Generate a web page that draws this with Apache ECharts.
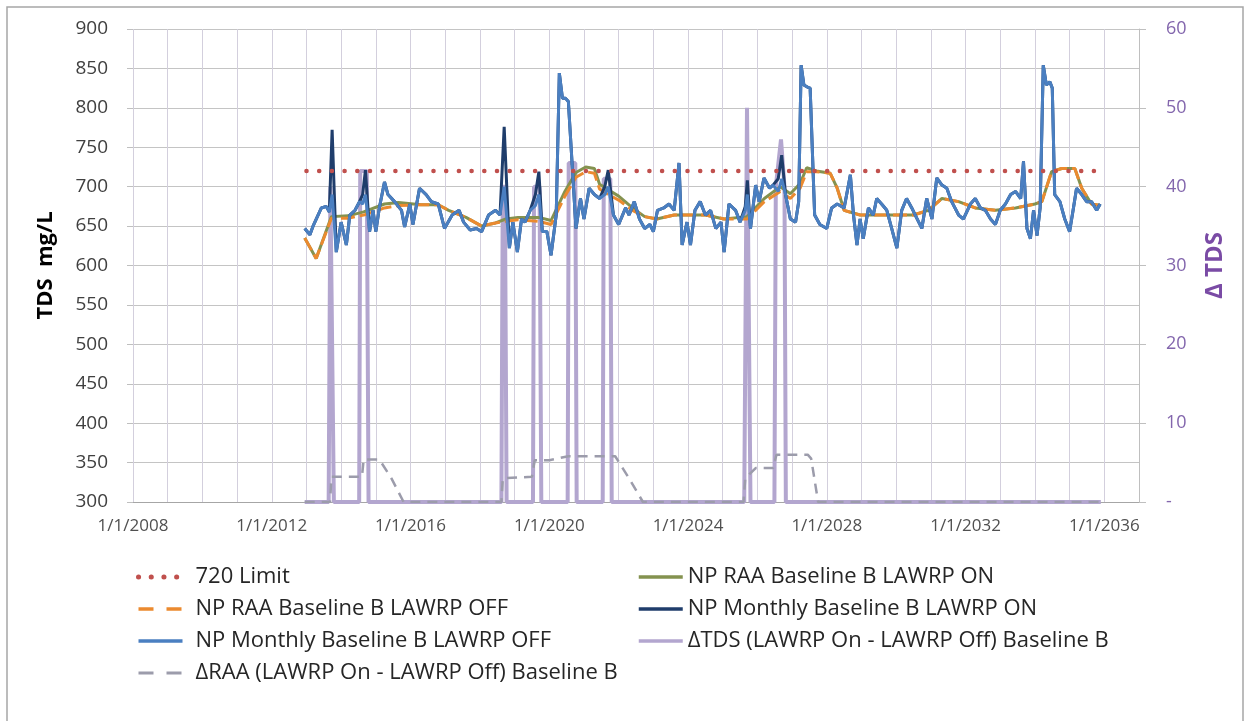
<!DOCTYPE html>
<html>
<head>
<meta charset="utf-8">
<script src="https://cdn.jsdelivr.net/npm/echarts@6/dist/echarts.min.js"></script>
<style>
  html, body { margin: 0; padding: 0; background: #ffffff; }
  #chart { width: 1251px; height: 721px; }
</style>
</head>
<body>
<div id="chart"></div>
<script>
// ---- data (x = decimal year, y = value) ----
const xTickLabelYears = [2008, 2012, 2016, 2020, 2024, 2028, 2032, 2036];

const limitValue = 720;
const limitSpan = [2013.0, 2036.0];

// NP monthly TDS, LAWRP OFF (mg/L)
const monthlyOff = [
  [2012.95,647],[2013.1,639],[2013.2,651],[2013.43,673],[2013.57,675],[2013.66,668],[2013.74,690],[2013.86,617],
  [2014.0,655],[2014.15,626],[2014.25,664],[2014.4,670],[2014.53,681],[2014.62,678],[2014.7,690],[2014.82,643],
  [2014.92,670],[2015.0,643],[2015.1,673],[2015.25,706],[2015.35,690],[2015.54,681],[2015.74,670],[2015.83,649],
  [2015.98,678],[2016.07,652],[2016.26,698],[2016.45,690],[2016.6,681],[2016.8,678],[2016.98,647],[2017.2,664],
  [2017.4,670],[2017.53,655],[2017.72,645],[2017.9,647],[2018.05,643],[2018.25,664],[2018.45,670],[2018.58,664],
  [2018.7,700],[2018.85,622],[2018.95,655],[2019.08,617],[2019.2,659],[2019.3,655],[2019.45,670],[2019.6,676],
  [2019.7,690],[2019.8,643],[2019.93,643],[2020.05,613],[2020.2,664],[2020.29,844],[2020.38,812],[2020.47,812],
  [2020.55,808],[2020.77,647],[2020.9,685],[2021.0,659],[2021.15,698],[2021.3,690],[2021.45,685],[2021.6,690],
  [2021.7,700],[2021.85,664],[2022.0,652],[2022.2,673],[2022.3,664],[2022.45,681],[2022.6,659],[2022.75,647],
  [2022.9,652],[2023.0,643],[2023.12,670],[2023.3,673],[2023.45,678],[2023.6,670],[2023.74,730],[2023.83,626],
  [2023.97,655],[2024.07,626],[2024.2,670],[2024.35,681],[2024.5,664],[2024.65,670],[2024.8,647],[2024.95,655],
  [2025.04,617],[2025.18,678],[2025.37,670],[2025.5,655],[2025.65,670],[2025.71,690],[2025.8,647],[2025.95,702],
  [2026.05,681],[2026.19,711],[2026.35,698],[2026.45,702],[2026.6,694],[2026.7,710],[2026.81,690],[2026.95,659],
  [2027.1,655],[2027.19,681],[2027.26,854],[2027.34,829],[2027.45,826],[2027.52,825],[2027.65,664],[2027.8,652],
  [2028.0,647],[2028.14,673],[2028.3,678],[2028.5,673],[2028.68,715],[2028.77,664],[2028.87,626],[2028.96,659],
  [2029.05,634],[2029.2,673],[2029.34,664],[2029.44,685],[2029.58,678],[2029.73,670],[2029.87,647],[2030.02,622],
  [2030.16,670],[2030.3,685],[2030.45,673],[2030.55,664],[2030.74,647],[2030.88,685],[2031.03,659],[2031.17,711],
  [2031.32,702],[2031.46,698],[2031.6,681],[2031.8,664],[2031.94,659],[2032.14,678],[2032.28,685],[2032.43,673],
  [2032.57,670],[2032.72,659],[2032.86,652],[2033.0,670],[2033.15,678],[2033.3,690],[2033.44,694],[2033.59,685],
  [2033.67,732],[2033.77,647],[2033.87,634],[2033.96,670],[2034.06,638],[2034.15,673],[2034.24,854],[2034.33,829],
  [2034.43,833],[2034.5,825],[2034.57,690],[2034.72,681],[2034.86,659],[2035.0,643],[2035.1,670],[2035.2,698],
  [2035.35,690],[2035.49,681],[2035.63,681],[2035.78,670],[2035.88,678]
];

// NP monthly TDS, LAWRP ON (mg/L)
const monthlyOn = [
  [2012.95,647],[2013.1,639],[2013.2,651],[2013.43,673],[2013.57,675],[2013.66,668],[2013.74,772],[2013.86,617],
  [2014.0,655],[2014.15,626],[2014.25,664],[2014.4,670],[2014.53,681],[2014.62,690],[2014.7,721],[2014.82,643],
  [2014.92,670],[2015.0,643],[2015.1,673],[2015.25,706],[2015.35,690],[2015.54,681],[2015.74,670],[2015.83,649],
  [2015.98,678],[2016.07,652],[2016.26,698],[2016.45,690],[2016.6,681],[2016.8,678],[2016.98,647],[2017.2,664],
  [2017.4,670],[2017.53,655],[2017.72,645],[2017.9,647],[2018.05,643],[2018.25,664],[2018.45,670],[2018.58,664],
  [2018.7,776],[2018.85,622],[2018.95,655],[2019.08,617],[2019.2,659],[2019.3,655],[2019.45,670],[2019.6,690],
  [2019.7,719],[2019.8,643],[2019.93,643],[2020.05,613],[2020.2,664],[2020.29,844],[2020.38,812],[2020.47,812],
  [2020.55,808],[2020.77,647],[2020.9,685],[2021.0,659],[2021.15,698],[2021.3,690],[2021.45,685],[2021.6,700],
  [2021.7,721],[2021.85,664],[2022.0,652],[2022.2,673],[2022.3,664],[2022.45,681],[2022.6,659],[2022.75,647],
  [2022.9,652],[2023.0,643],[2023.12,670],[2023.3,673],[2023.45,678],[2023.6,670],[2023.74,730],[2023.83,626],
  [2023.97,655],[2024.07,626],[2024.2,670],[2024.35,681],[2024.5,664],[2024.65,670],[2024.8,647],[2024.95,655],
  [2025.04,617],[2025.18,678],[2025.37,670],[2025.5,655],[2025.65,675],[2025.71,708],[2025.8,647],[2025.95,702],
  [2026.05,681],[2026.19,711],[2026.35,698],[2026.45,702],[2026.6,710],[2026.7,740],[2026.81,690],[2026.95,659],
  [2027.1,655],[2027.19,681],[2027.26,854],[2027.34,829],[2027.45,826],[2027.52,825],[2027.65,664],[2027.8,652],
  [2028.0,647],[2028.14,673],[2028.3,678],[2028.5,673],[2028.68,715],[2028.77,664],[2028.87,626],[2028.96,659],
  [2029.05,634],[2029.2,673],[2029.34,664],[2029.44,685],[2029.58,678],[2029.73,670],[2029.87,647],[2030.02,622],
  [2030.16,670],[2030.3,685],[2030.45,673],[2030.55,664],[2030.74,647],[2030.88,685],[2031.03,659],[2031.17,711],
  [2031.32,702],[2031.46,698],[2031.6,681],[2031.8,664],[2031.94,659],[2032.14,678],[2032.28,685],[2032.43,673],
  [2032.57,670],[2032.72,659],[2032.86,652],[2033.0,670],[2033.15,678],[2033.3,690],[2033.44,694],[2033.59,685],
  [2033.67,732],[2033.77,647],[2033.87,634],[2033.96,670],[2034.06,638],[2034.15,673],[2034.24,854],[2034.33,829],
  [2034.43,833],[2034.5,825],[2034.57,690],[2034.72,681],[2034.86,659],[2035.0,643],[2035.1,670],[2035.2,698],
  [2035.35,690],[2035.49,681],[2035.63,681],[2035.78,670],[2035.88,678]
];

// NP running annual average, LAWRP OFF (mg/L)
const raaOff = [
  [2012.95,635],[2013.28,609],[2013.72,660],[2014.2,660],[2014.65,664],[2015.25,673],[2015.65,676],[2016.3,677],
  [2016.8,677],[2017.1,670],[2017.6,661],[2018.05,650],[2018.45,654],[2018.75,656],[2019.1,658],[2019.7,656],
  [2020.05,652],[2020.45,688],[2020.77,712],[2021.05,719],[2021.3,717],[2021.45,697],[2021.7,690],[2022.0,683],
  [2022.4,670],[2022.75,662],[2023.1,659],[2023.6,664],[2024.0,664],[2024.5,664],[2025.04,659],[2025.7,659],
  [2026.2,681],[2026.66,694],[2026.95,685],[2027.23,698],[2027.42,719],[2027.7,719],[2028.1,717],[2028.3,698],
  [2028.5,670],[2028.96,664],[2029.55,664],[2030.1,664],[2030.5,664],[2030.93,670],[2031.32,685],[2031.8,681],
  [2032.28,673],[2032.86,670],[2033.44,673],[2034.0,678],[2034.2,681],[2034.48,719],[2034.77,723],[2035.15,723],
  [2035.35,698],[2035.63,678],[2035.88,676]
];

// NP running annual average, LAWRP ON (mg/L)
const raaOn = [
  [2012.95,635],[2013.28,609],[2013.72,662],[2014.2,663],[2014.65,668],[2015.25,678],[2015.65,680],[2016.3,677],
  [2016.8,677],[2017.1,670],[2017.6,661],[2018.05,650],[2018.45,654],[2018.75,659],[2019.1,661],[2019.7,661],
  [2020.05,657],[2020.45,694],[2020.77,718],[2021.05,725],[2021.3,723],[2021.45,703],[2021.7,696],[2022.0,688],
  [2022.4,673],[2022.75,662],[2023.1,659],[2023.6,664],[2024.0,664],[2024.5,664],[2025.04,659],[2025.7,662],
  [2026.2,685],[2026.66,700],[2026.95,691],[2027.23,704],[2027.42,724],[2027.7,720],[2028.1,717],[2028.3,698],
  [2028.5,670],[2028.96,664],[2029.55,664],[2030.1,664],[2030.5,664],[2030.93,670],[2031.32,685],[2031.8,681],
  [2032.28,673],[2032.86,670],[2033.44,673],[2034.0,678],[2034.2,681],[2034.48,719],[2034.77,723],[2035.15,723],
  [2035.35,698],[2035.63,678],[2035.88,676]
];

// ΔTDS (LAWRP On - LAWRP Off), right axis
const deltaTds = [
  [2012.95,0],[2013.64,0],[2013.69,40],[2013.74,40],[2013.79,0],
  [2014.52,0],[2014.55,42],[2014.74,42],[2014.79,0],
  [2018.62,0],[2018.66,40],[2018.72,40],[2018.77,0],
  [2019.53,0],[2019.56,40],[2019.72,40],[2019.77,0],
  [2020.53,0],[2020.56,43],[2020.75,43],[2020.79,0],
  [2021.54,0],[2021.57,41],[2021.76,41],[2021.8,0],
  [2025.62,0],[2025.7,50],[2025.8,0],
  [2026.49,0],[2026.53,40],[2026.68,46],[2026.78,40],[2026.82,0],
  [2035.9,0]
];

// ΔRAA (LAWRP On - LAWRP Off), right axis
const deltaRaa = [
  [2012.95,0],[2013.68,0],[2013.72,3.2],[2014.6,3.2],[2014.65,5.4],[2015.1,5.4],[2015.45,3],[2015.8,0],
  [2018.62,0],[2018.66,3],[2019.5,3.2],[2019.58,5.3],[2020.0,5.3],[2020.55,5.8],[2021.9,5.8],[2022.3,3],[2022.7,0],
  [2025.6,0],[2025.65,3],[2025.95,4.3],[2026.45,4.3],[2026.55,6],[2027.45,6],[2027.55,5.5],[2027.75,0],
  [2035.9,0]
];

// ---- chart ----
const FONT = "'Open Sans', 'Liberation Sans', sans-serif";
const chart = echarts.init(document.getElementById('chart'), null, { renderer: 'canvas' });

const legendText = { fontFamily: FONT, fontSize: 22, color: '#262626', lineHeight: 22 };
// hide the marker symbol so legend icons show only the line style
const legendItemStyle = { color: 'rgba(0,0,0,0)', borderColor: 'rgba(0,0,0,0)', borderWidth: 0, opacity: 0 };
const legendLineStyle = { width: 3.5 };

chart.setOption({
  animation: false,
  backgroundColor: '#ffffff',
  graphic: [{
    type: 'rect',
    shape: { x: 7, y: 7, width: 1236, height: 730 },
    style: { fill: 'none', stroke: '#a6a6a6', lineWidth: 1.5 },
    silent: true
  }],
  grid: { left: 133, right: 112, top: 29, bottom: 219 },
  legend: [
    {
      left: 131, top: 561, orient: 'vertical', itemGap: 10,
      itemWidth: 44, itemHeight: 14,
      textStyle: Object.assign({ padding: [0, 0, 0, 8] }, legendText),
      itemStyle: legendItemStyle, lineStyle: legendLineStyle,
      data: [
        { name: '720 Limit', lineStyle: { width: 5 } },
        { name: 'NP RAA Baseline B LAWRP OFF', lineStyle: { type: [15, 13] } },
        'NP Monthly Baseline B LAWRP OFF',
        { name: 'ΔRAA (LAWRP On - LAWRP Off) Baseline B', lineStyle: { type: [15, 13], width: 3 } }
      ]
    },
    {
      left: 632, top: 561, orient: 'vertical', itemGap: 10,
      itemWidth: 44, itemHeight: 14, textStyle: legendText,
      itemStyle: legendItemStyle, lineStyle: legendLineStyle,
      data: ['NP RAA Baseline B LAWRP ON', 'NP Monthly Baseline B LAWRP ON', 'ΔTDS (LAWRP On - LAWRP Off) Baseline B']
    }
  ],
  xAxis: {
    type: 'value', min: 2008, max: 2037, interval: 1,
    axisLine: { show: true, onZero: false, lineStyle: { color: '#a6a6a6', width: 1 } },
    axisTick: { show: false },
    splitLine: { show: true, lineStyle: { color: '#d3cfdd', width: 1 } },
    axisLabel: {
      margin: 16, color: '#505050', fontFamily: FONT, fontSize: 17,
      formatter: v => xTickLabelYears.includes(v) ? '1/1/' + v : ''
    }
  },
  yAxis: [
    {
      type: 'value', min: 300, max: 900, interval: 50,
      name: 'TDS  mg/L', nameLocation: 'middle', nameRotate: 90, nameGap: 76,
      nameTextStyle: { fontFamily: FONT, fontSize: 22, fontWeight: 'bold', color: '#000000' },
      axisLine: { show: false },
      axisTick: { show: true, length: 6, lineStyle: { color: '#bfbfbf' } },
      splitLine: { show: true, lineStyle: { color: '#c4c4c4', width: 1 } },
      axisLabel: { margin: 25, color: '#404040', fontFamily: FONT, fontSize: 19 }
    },
    {
      type: 'value', min: 0, max: 60, interval: 10, position: 'right',
      name: 'Δ TDS', nameLocation: 'middle', nameRotate: 90, nameGap: 64,
      nameTextStyle: { fontFamily: FONT, fontSize: 24, fontWeight: 'bold', color: '#7a4ba5' },
      axisLine: { show: true, lineStyle: { color: '#bfbfbf' } },
      axisTick: { show: true, length: 7, lineStyle: { color: '#bfbfbf' } },
      splitLine: { show: false },
      axisLabel: {
        margin: 27, color: '#8366ad', fontFamily: FONT, fontSize: 18,
        formatter: v => v === 0 ? '-' : String(v)
      }
    }
  ],
  series: [
    {
      name: 'ΔTDS (LAWRP On - LAWRP Off) Baseline B', type: 'line', yAxisIndex: 1,
      symbol: 'none', z: 1, data: deltaTds,
      lineStyle: { color: '#b3a6cf', width: 4 }, itemStyle: { color: '#b3a6cf' }
    },
    {
      name: 'ΔRAA (LAWRP On - LAWRP Off) Baseline B', type: 'line', yAxisIndex: 1,
      symbol: 'none', z: 1, data: deltaRaa,
      lineStyle: { color: '#9c9cab', width: 2.5, type: [10, 7] }, itemStyle: { color: '#9c9cab' }
    },
    {
      name: 'NP RAA Baseline B LAWRP ON', type: 'line', symbol: 'none', z: 3, data: raaOn,
      lineStyle: { color: '#84924f', width: 3 }, itemStyle: { color: '#84924f' }
    },
    {
      name: 'NP RAA Baseline B LAWRP OFF', type: 'line', symbol: 'none', z: 3, data: raaOff,
      lineStyle: { color: '#eb8a2f', width: 3, type: [14, 5] }, itemStyle: { color: '#eb8a2f' }
    },
    {
      name: 'NP Monthly Baseline B LAWRP ON', type: 'line', symbol: 'none', z: 4, data: monthlyOn,
      lineStyle: { color: '#1f3d6b', width: 3 }, itemStyle: { color: '#1f3d6b' }
    },
    {
      name: 'NP Monthly Baseline B LAWRP OFF', type: 'line', symbol: 'none', z: 5, data: monthlyOff,
      lineStyle: { color: '#4a7fc1', width: 3 }, itemStyle: { color: '#4a7fc1' }
    },
    {
      name: '720 Limit', type: 'line', symbol: 'none', z: 6,
      data: [[limitSpan[0], limitValue], [limitSpan[1], limitValue]],
      lineStyle: { color: '#c0504d', width: 4.5, type: [0.1, 12.6], cap: 'round' },
      itemStyle: { color: '#c0504d' }
    }
  ]
});
</script>
</body>
</html>
